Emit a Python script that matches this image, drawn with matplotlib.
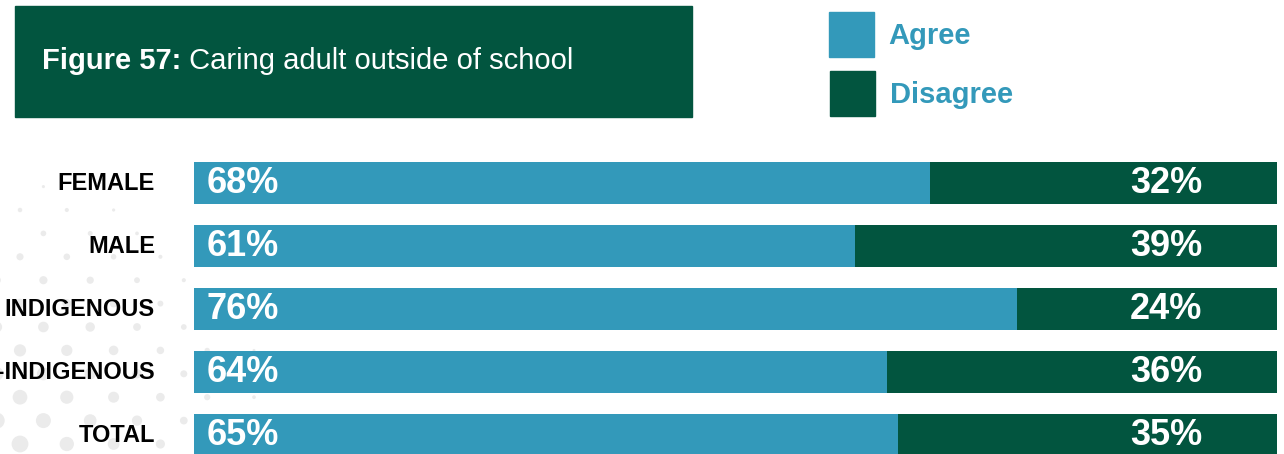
import numpy as np
import matplotlib
matplotlib.use("Agg")
import matplotlib.pyplot as plt
from matplotlib.patches import Rectangle, Circle

# Survey responses: share of students with a caring adult outside of school
categories = ["FEMALE", "MALE", "INDIGENOUS", "NON-INDIGENOUS", "TOTAL"]
agree = [68, 61, 76, 64, 65]
disagree = [32, 39, 24, 36, 35]
series_names = ["Agree", "Disagree"]

BLUE = "#3399BA"
GREEN = "#02553F"
FONT = "Liberation Sans"

W, H = 1284, 454
fig = plt.figure(figsize=(W / 100, H / 100), dpi=100)
fig.patch.set_facecolor("white")


def fx(px):
    return px / W


def fy(py):
    return 1 - py / H


# Decorative dot pattern in the lower-left corner
deco = fig.add_axes([0, 0, 1, 1], zorder=0)
deco.set_xlim(0, W)
deco.set_ylim(H, 0)
deco.set_aspect("equal")
deco.axis("off")
row_gap, col_gap = 23.4, 46.8
for r in range(25):
    yy = H - 10 - r * row_gap
    offset = 23.4 if r % 2 == 0 else 0.0
    for c in range(12):
        xx = 20 + offset + c * col_gap - 23.4
        dist = np.hypot(xx, H - yy)
        d = 18 - 0.055 * dist
        if d > 2.5:
            deco.add_patch(Circle((xx, yy), d / 2, color="#ebebeb", lw=0))

# Title banner
fig.patches.append(Rectangle((fx(15), fy(117)), fx(677), 111 / H,
                             transform=fig.transFigure, color=GREEN, zorder=1))
t1 = fig.text(fx(42), fy(61), "Figure 57:", color="white", fontsize=21,
              fontweight="bold", family=FONT, va="center", ha="left", zorder=2)
fig.canvas.draw()
bb = t1.get_window_extent(fig.canvas.get_renderer())
fig.text(bb.x1 / W, fy(61), " Caring adult outside of school", color="white",
         fontsize=21, family=FONT, va="center", ha="left", zorder=2)

# Legend
for i, (name, col) in enumerate(zip(series_names, [BLUE, GREEN])):
    top = 12 + i * 59
    fig.patches.append(Rectangle((fx(829 + i), fy(top + 45)), fx(45), 45 / H,
                                 transform=fig.transFigure, color=col, zorder=1))
    fig.text(fx(888 + 2 * i), fy(top + 24), name, color=BLUE, fontsize=21,
             fontweight="bold", family=FONT, va="center", ha="left")

# Stacked horizontal bars
top_px, pitch = 151.5, 63.1
ax = fig.add_axes([fx(194), 0, fx(1277 - 194), (H - top_px) / H], zorder=3)
ax.patch.set_alpha(0)
y = np.arange(len(categories))
ax.barh(y, agree, height=0.667, color=BLUE, lw=0)
ax.barh(y, disagree, left=agree, height=0.667, color=GREEN, lw=0)
ax.set_xlim(0, 100)
ax.set_ylim(-0.5 + (H - top_px) / pitch, -0.5)
ax.axis("off")

for yi, cat, a, d in zip(y, categories, agree, disagree):
    ax.annotate(cat, xy=(0, yi), xytext=(-39 * 0.72, 0), textcoords="offset points",
                ha="right", va="center", fontsize=17, fontweight="bold",
                family=FONT, color="black", annotation_clip=False)
    ax.annotate(f"{a}%", xy=(0, yi), xytext=(13 * 0.72, 0), textcoords="offset points",
                ha="left", va="center", fontsize=26, fontweight="bold",
                family=FONT, color="white")
    ax.annotate(f"{d}%", xy=(100, yi), xytext=(-75 * 0.72, 0), textcoords="offset points",
                ha="right", va="center", fontsize=26, fontweight="bold",
                family=FONT, color="white")

fig.savefig("out.png", dpi=100, facecolor="white")
